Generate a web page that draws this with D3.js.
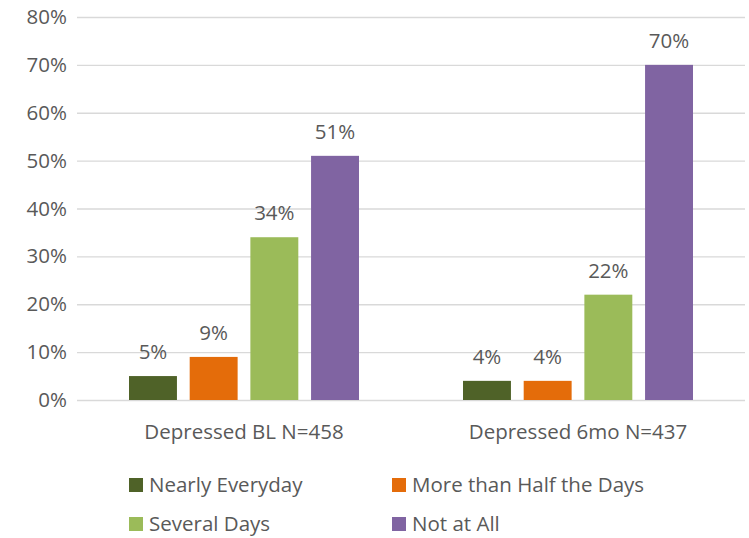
<!DOCTYPE html>
<html>
<head>
<meta charset="utf-8">
<script src="https://cdn.jsdelivr.net/npm/d3@7"></script>
<style>
  body { margin: 0; background: #fff; }
  svg text { font-family: "Open Sans", "Noto Sans", sans-serif; fill: #595959; }
</style>
</head>
<body>
<svg id="chart"></svg>
<script>
var screen = {width:749, height:538}
var margins = {top:17, right:4, bottom:138, left:77}

// data
var categories = ["Depressed BL N=458", "Depressed 6mo N=437"]
var seriesNames = ["Nearly Everyday", "More than Half the Days", "Several Days", "Not at All"]
var seriesColors = ["#4F6228", "#E46C0A", "#9BBB59", "#8064A2"]
var nearlyEveryday = [5, 4]
var moreThanHalf = [9, 4]
var severalDays = [34, 22]
var notAtAll = [51, 70]
var yTicks = [0, 10, 20, 30, 40, 50, 60, 70, 80]

var seriesValues = [nearlyEveryday, moreThanHalf, severalDays, notAtAll]
var fontSize = "20.5px"

var width = screen.width - margins.left - margins.right
var height = screen.height - margins.top - margins.bottom

var svg = d3.select("#chart")
  .attr("width", screen.width)
  .attr("height", screen.height)

var graph = svg.append("g")
  .attr("transform", "translate(" + margins.left + "," + margins.top + ")")

var xScale = d3.scaleBand()
  .domain(categories)
  .range([0, width])

var innerScale = d3.scaleBand()
  .domain(seriesNames)
  .range([52, xScale.bandwidth() - 52])
  .paddingInner(0.21)

var yScale = d3.scaleLinear()
  .domain([0, 80])
  .range([height, 0])

// gridlines + y labels via axis
var yAxis = d3.axisLeft(yScale)
  .tickValues(yTicks)
  .tickSize(-width)
  .tickPadding(10)
  .tickFormat(function(d){ return d + "%" })

graph.append("g")
  .attr("class", "yAxis")
  .call(yAxis)
  .call(function(g){
    g.select(".domain").remove()
    g.selectAll("line").attr("stroke", "#d9d9d9").attr("stroke-width", 1.3)
    g.selectAll("text").attr("font-size", fontSize).attr("fill", "#595959")
      .attr("font-family", "'Open Sans', sans-serif")
  })

// x axis category labels
var xAxis = d3.axisBottom(xScale).tickSize(0).tickPadding(24)
graph.append("g")
  .attr("transform", "translate(0," + height + ")")
  .call(xAxis)
  .call(function(g){
    g.select(".domain").remove()
    g.selectAll("text").attr("font-size", fontSize).attr("fill", "#595959")
      .attr("font-family", "'Open Sans', sans-serif")
  })

// bars
var rows = []
categories.forEach(function(cat, ci){
  seriesNames.forEach(function(s, si){
    rows.push({cat:cat, series:s, value:seriesValues[si][ci], color:seriesColors[si]})
  })
})

graph.selectAll("rect.bar")
  .data(rows)
  .enter()
  .append("rect")
  .attr("class", "bar")
  .attr("x", function(d){ return xScale(d.cat) + innerScale(d.series) })
  .attr("y", function(d){ return yScale(d.value) })
  .attr("width", innerScale.bandwidth())
  .attr("height", function(d){ return height - yScale(d.value) })
  .attr("fill", function(d){ return d.color })

graph.selectAll("text.val")
  .data(rows)
  .enter()
  .append("text")
  .attr("class", "val")
  .attr("x", function(d){ return xScale(d.cat) + innerScale(d.series) + innerScale.bandwidth()/2 })
  .attr("y", function(d){ return yScale(d.value) - 17 })
  .attr("text-anchor", "middle")
  .attr("font-size", fontSize)
  .text(function(d){ return d.value + "%" })

// legend, 2 columns (second row nudged up so descenders stay inside)
var legendX = [129, 392]
var legendY = [485, 524]
var legend = svg.selectAll("g.leg")
  .data(seriesNames)
  .enter()
  .append("g")
  .attr("class", "leg")
  .attr("transform", function(d, i){ return "translate(" + legendX[i % 2] + "," + legendY[Math.floor(i / 2)] + ")" })

legend.append("rect")
  .attr("x", 0).attr("y", -7)
  .attr("width", 14).attr("height", 14)
  .attr("fill", function(d, i){ return seriesColors[i] })

legend.append("text")
  .attr("x", 20)
  .attr("y", 0)
  .attr("dy", "0.35em")
  .attr("font-size", fontSize)
  .text(function(d){ return d })
</script>
</body>
</html>
